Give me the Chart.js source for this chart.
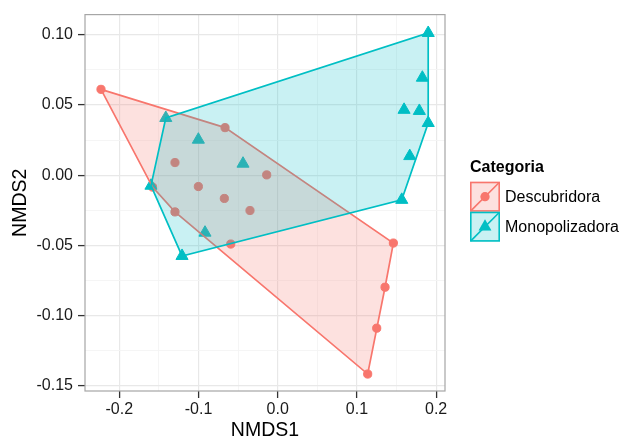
<!DOCTYPE html>
<html>
<head>
<meta charset="utf-8">
<script src="https://cdn.jsdelivr.net/npm/chart.js@4"></script>
<style>
  html, body { margin: 0; padding: 0; background: #fff; }
  #wrap { width: 624px; height: 439px; }
</style>
</head>
<body>
<div id="wrap"><canvas id="nmdsChart" width="624" height="439"></canvas></div>
<script>
    // Categories and colours
    const categories = ['Descubridora', 'Monopolizadora'];
    const catColors = ['#F8766D', '#00BFC4'];
    const catFills = ['rgba(248, 118, 109, 0.22)', 'rgba(0, 191, 196, 0.21)'];

    // Descubridora points (NMDS1, NMDS2)
    const descX = [-0.2231, -0.0665, -0.1297, -0.0139, -0.1002, -0.0674, -0.1297, -0.0350, -0.0593, 0.1460, 0.1355, 0.1250, 0.1136, -0.1580];
    const descY = [0.0612, 0.0339, 0.0090, 0.0002, -0.0081, -0.0166, -0.0262, -0.0252, -0.0491, -0.0484, -0.0799, -0.1091, -0.1418, -0.0085];

    // Monopolizadora points (NMDS1, NMDS2)
    const monoX = [-0.1413, -0.1002, -0.0438, -0.1600, -0.0918, -0.1208, 0.1900, 0.1826, 0.1595, 0.1788, 0.1900, 0.1667, 0.1566];
    const monoY = [0.0408, 0.0253, 0.0082, -0.0075, -0.0410, -0.0576, 0.1014, 0.0695, 0.0466, 0.0458, 0.0372, 0.0136, -0.0176];

    // Axis ticks
    const xMajor = [-0.2, -0.1, 0.0, 0.1, 0.2];
    const xMinor = [-0.15, -0.05, 0.05, 0.15];
    const yMajor = [-0.15, -0.10, -0.05, 0.00, 0.05, 0.10];
    const yMinor = [-0.125, -0.075, -0.025, 0.025, 0.075];
    const xRange = [-0.2433, 0.2112];
    const yRange = [-0.1539, 0.1145];

    const FONT = "'Liberation Sans', Arial, Helvetica, sans-serif";
    Chart.defaults.font.family = FONT;
    Chart.defaults.color = '#1a1a1a';

    function toPoints(xs, ys) {
      return xs.map((x, i) => ({ x: x, y: ys[i] }));
    }

    // Convex hull (monotone chain), closed
    function convexHull(xs, ys) {
      const pts = toPoints(xs, ys).sort((a, b) => a.x - b.x || a.y - b.y);
      const cross = (o, a, b) => (a.x - o.x) * (b.y - o.y) - (a.y - o.y) * (b.x - o.x);
      const lower = [];
      pts.forEach(p => {
        while (lower.length >= 2 && cross(lower[lower.length - 2], lower[lower.length - 1], p) <= 0) lower.pop();
        lower.push(p);
      });
      const upper = [];
      pts.slice().reverse().forEach(p => {
        while (upper.length >= 2 && cross(upper[upper.length - 2], upper[upper.length - 1], p) <= 0) upper.pop();
        upper.push(p);
      });
      const hull = lower.slice(0, -1).concat(upper.slice(0, -1));
      hull.push(hull[0]);
      return hull;
    }

    function isIn(list, v) {
      return list.some(m => Math.abs(m - v) < 1e-9);
    }

    function axisOptions(major, minor, range, digits, isX) {
      return {
        type: 'linear',
        min: range[0],
        max: range[1],
        afterBuildTicks: function(scale) {
          scale.ticks = major.concat(minor).sort((a, b) => a - b).map(v => ({ value: v }));
        },
        afterFit: function(scale) {
          if (isX) scale.height = 48; else scale.width = 85;
        },
        border: { display: false },
        grid: {
          color: ctx => isIn(major, ctx.tick.value) ? '#E8E8E8' : '#F4F4F4',
          lineWidth: ctx => isIn(major, ctx.tick.value) ? 1.2 : 0.9,
          tickColor: ctx => isIn(major, ctx.tick.value) ? '#333333' : 'rgba(0,0,0,0)',
          tickWidth: 1.3,
          tickLength: 7
        },
        ticks: {
          autoSkip: false,
          maxRotation: 0,
          padding: isX ? 2 : 5,
          color: '#1a1a1a',
          font: { size: 16 },
          callback: v => isIn(major, v) ? v.toFixed(digits) : ''
        },
        title: {
          display: true,
          text: isX ? 'NMDS1' : 'NMDS2',
          color: '#000',
          font: { size: 19.5, lineHeight: 1 },
          padding: isX ? { top: 0, bottom: -1 } : { top: 11, bottom: 0 }
        }
      };
    }

    // Panel border and legend
    const panelPlugin = {
      id: 'panelBorder',
      afterDraw(chart) {
        const { ctx, chartArea } = chart;
        ctx.save();
        ctx.strokeStyle = '#A6A6A6';
        ctx.lineWidth = 1.2;
        ctx.strokeRect(chartArea.left, chartArea.top, chartArea.right - chartArea.left, chartArea.bottom - chartArea.top);

        // Legend
        const lx = 470, ly = 181.7, size = 30;
        ctx.fillStyle = '#000';
        ctx.font = 'bold 16px ' + FONT;
        ctx.textBaseline = 'middle';
        ctx.textAlign = 'left';
        ctx.fillText('Categoria', lx, 168);
        categories.forEach((name, i) => {
          const top = ly + i * size;
          ctx.fillStyle = catFills[i];
          ctx.fillRect(lx, top, size, size);
          ctx.strokeStyle = catColors[i];
          ctx.lineWidth = 1.6;
          ctx.strokeRect(lx + 0.8, top + 0.8, size - 1.6, size - 1.6);
          ctx.beginPath();
          ctx.moveTo(lx + 0.8, top + size - 0.8);
          ctx.lineTo(lx + size - 0.8, top + 0.8);
          ctx.stroke();
          Chart.helpers.drawPoint(ctx, {
            pointStyle: i === 0 ? 'circle' : 'triangle',
            radius: i === 0 ? 4.6 : 7.4,
            borderWidth: 0
          }, lx + size / 2, top + size / 2);
          ctx.fillStyle = catColors[i];
          ctx.fill();
          ctx.fillStyle = '#000';
          ctx.font = '16px ' + FONT;
          ctx.fillText(name, 505, top + size / 2 + 1);
        });
        ctx.restore();
      }
    };

    function initChart() {
      const ctx = document.getElementById('nmdsChart').getContext('2d');
      new Chart(ctx, {
        type: 'scatter',
        data: {
          datasets: [{
            label: categories[0],
            data: toPoints(descX, descY),
            pointStyle: 'circle',
            pointRadius: 4.1,
            pointBorderWidth: 1,
            backgroundColor: catColors[0],
            borderColor: catColors[0],
            order: 4
          }, {
            label: categories[1],
            data: toPoints(monoX, monoY),
            pointStyle: 'triangle',
            pointRadius: 7,
            pointBorderWidth: 1,
            backgroundColor: catColors[1],
            borderColor: catColors[1],
            order: 3
          }, {
            label: categories[0] + ' hull',
            data: convexHull(descX, descY),
            showLine: true,
            fill: 'shape',
            tension: 0,
            pointRadius: 0,
            borderWidth: 1.7,
            borderColor: catColors[0],
            backgroundColor: catFills[0],
            order: 2
          }, {
            label: categories[1] + ' hull',
            data: convexHull(monoX, monoY),
            showLine: true,
            fill: 'shape',
            tension: 0,
            pointRadius: 0,
            borderWidth: 1.7,
            borderColor: catColors[1],
            backgroundColor: catFills[1],
            order: 1
          }]
        },
        options: {
          responsive: false,
          animation: false,
          layout: { padding: { top: 13, right: 179, left: 0, bottom: 0 } },
          plugins: {
            legend: { display: false },
            tooltip: { enabled: false }
          },
          scales: {
            x: axisOptions(xMajor, xMinor, xRange, 1, true),
            y: axisOptions(yMajor, yMinor, yRange, 2, false)
          }
        },
        plugins: [panelPlugin]
      });
    }

    document.addEventListener('DOMContentLoaded', initChart);
</script>
</body>
</html>
